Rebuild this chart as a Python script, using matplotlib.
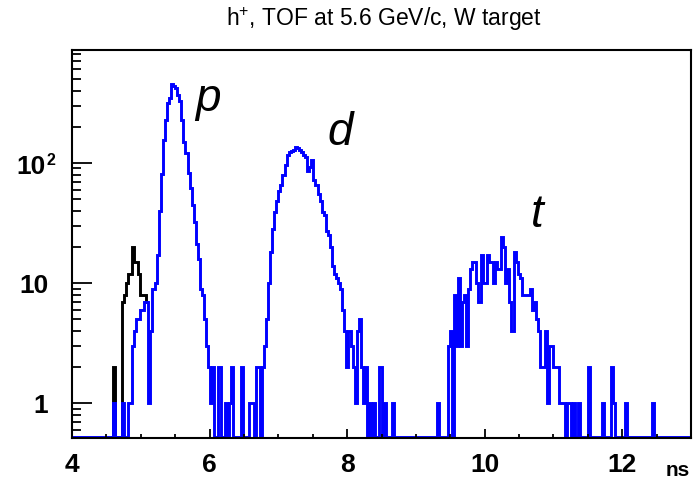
import numpy as np
import matplotlib
matplotlib.use("Agg")
import matplotlib.pyplot as plt
from matplotlib.transforms import blended_transform_factory
from matplotlib.ticker import FixedLocator, FuncFormatter, LogLocator, MultipleLocator

plt.rcParams['font.family'] = ['Liberation Sans', 'DejaVu Sans']
plt.rcParams['mathtext.fontset'] = 'custom'
plt.rcParams['mathtext.rm'] = 'Liberation Sans'
plt.rcParams['mathtext.sf'] = 'Liberation Sans'

# ---------------- data ----------------
x_lo, x_hi = 4.0, 13.0
bin_width = 0.03
n_bins = 300

# blue histogram (all h+), sparse: bin index -> counts
blue_low = {20: 1, 24: 1, 27: 1, 28: 1, 29: 3, 30: 4, 31: 5, 32: 5, 33: 6, 34: 6,
            35: 7, 36: 7, 37: 1, 38: 4, 39: 9}
blue_p = {40: 10, 41: 17, 42: 40, 43: 81, 44: 155, 45: 228, 46: 315, 47: 350,
          48: 450, 49: 440, 50: 420, 51: 370, 52: 330, 53: 228, 54: 150, 55: 120,
          56: 83, 57: 62, 58: 45, 59: 32, 60: 21, 61: 16, 62: 9, 63: 8, 64: 5,
          65: 3, 66: 2, 67: 1, 68: 2, 71: 2, 74: 1, 76: 1, 77: 2, 82: 2,
          86: 1, 87: 1, 89: 2, 90: 2}
blue_d = {92: 2, 93: 3, 94: 5, 95: 10, 96: 18, 97: 28, 98: 39, 99: 48, 100: 58,
          101: 66, 102: 80, 103: 96, 104: 117, 105: 124, 106: 126, 107: 128,
          108: 135, 109: 133, 110: 128, 111: 124, 112: 117, 113: 112, 114: 85,
          115: 93, 116: 105, 117: 72, 118: 66, 119: 55, 120: 48, 121: 39,
          122: 37, 123: 27, 124: 25, 125: 20, 126: 14, 127: 12, 128: 11,
          129: 10, 130: 9, 131: 6, 132: 4, 133: 2, 134: 4, 135: 3, 136: 2,
          137: 1, 138: 4, 139: 5, 140: 2, 141: 1, 142: 2, 144: 1, 146: 1,
          149: 2, 151: 1, 155: 1}
blue_t = {177: 1, 182: 3, 183: 4, 185: 8, 186: 3, 187: 11, 188: 3, 189: 7,
          190: 8, 191: 3, 192: 9, 193: 13, 194: 15, 195: 15, 196: 10, 197: 7,
          198: 17, 199: 10, 200: 10, 201: 17, 202: 15, 203: 15, 204: 10,
          205: 15, 206: 13, 207: 13, 208: 24, 209: 20, 210: 10, 211: 13,
          212: 7, 213: 4, 214: 18, 215: 15, 216: 12, 217: 11, 218: 8, 219: 8,
          220: 8, 221: 8, 222: 9, 223: 6, 224: 7, 225: 5, 226: 4, 227: 2,
          228: 2, 229: 4, 230: 1, 231: 3, 232: 3, 233: 2, 234: 2, 235: 2,
          236: 1, 237: 1, 238: 1, 240: 1, 241: 1, 243: 1, 245: 1, 250: 2,
          257: 1, 261: 2, 262: 1, 268: 1, 281: 1}

# black histogram (low-mass component near 4.9 ns), bins 19..36
black_first_bin = 19
black_counts = [0, 2, 0, 0, 0, 7, 8, 10, 12, 12, 20, 15, 15, 12, 8, 8, 8, 7]

# annotations
peak_labels = ['p', 'd', 't']
label_x = [5.79, 7.72, 10.67]
label_y = [270, 141, 29.3]

y_major = [1, 10, 100]
y_labels = ['1', '10', '']   # 10^2 drawn separately with a small exponent

title = r'h$^{+}$, TOF at 5.6 GeV/c, W target'

# ---------------- build ----------------
edges = x_lo + bin_width * np.arange(n_bins + 1)

def to_array(*dicts):
    arr = np.zeros(n_bins)
    for d in dicts:
        for k, v in d.items():
            arr[k] = v
    return arr

blue = to_array(blue_low, blue_p, blue_d, blue_t)
black = np.array(black_counts, dtype=float)
black_edges = edges[black_first_bin:black_first_bin + len(black) + 1]

y_lo, y_hi = 0.514, 870
floor = 0.528

W, H = 693, 483
fig = plt.figure(figsize=(W / 100, H / 100), dpi=100)
ax = fig.add_axes([72 / W, (H - 438) / H, (691 - 72) / W, (438 - 50) / H])

ax.stairs(np.where(black > 0, black, floor), black_edges, color='black', lw=2.1,
          baseline=None)
ax.stairs(np.where(blue > 0, blue, floor), edges, color='#0000ff', lw=2.1,
          baseline=None)

ax.set_yscale('log')
ax.set_xlim(x_lo, x_hi)
ax.set_ylim(y_lo, y_hi)

for s in ax.spines.values():
    s.set_linewidth(1.5)
    s.set_zorder(5)

ax.xaxis.set_major_locator(FixedLocator([4, 6, 8, 10, 12]))
ax.xaxis.set_minor_locator(MultipleLocator(0.5))
ax.yaxis.set_major_locator(FixedLocator(y_major))
ax.yaxis.set_minor_locator(LogLocator(base=10, subs=np.arange(2, 10)))

def yfmt(v, pos):
    for val, lab in zip(y_major, y_labels):
        if abs(v - val) < 1e-6 * val:
            return lab
    return ''
ax.yaxis.set_major_formatter(FuncFormatter(yfmt))
ax.yaxis.set_minor_formatter(FuncFormatter(lambda v, p: ''))

ax.tick_params(axis='x', which='major', direction='in', length=6.5, width=1.3,
               labelsize=19, pad=11, top=False)
ax.tick_params(axis='x', which='minor', direction='in', length=3.2, width=1.3,
               top=False)
ax.tick_params(axis='y', which='major', direction='in', length=14.5, width=1.3,
               labelsize=19, pad=17, right=False)
ax.tick_params(axis='y', which='minor', direction='in', length=6.8, width=1.3,
               right=False)
for lab in ax.get_xticklabels() + ax.get_yticklabels():
    lab.set_fontweight('bold')

# 10^2 label: big "10" plus small exponent "2"
tr = blended_transform_factory(fig.transFigure, ax.transData)
ax.text(45.5 / W, 100 * 10 ** (-4.5 / 120.2), '10', transform=tr, ha='right',
        va='center', fontsize=19, fontweight='bold', clip_on=False)
ax.text(46.5 / W, 100 * 10 ** (10 / 120.2), '2', transform=tr, ha='left',
        va='top', fontsize=11.5, fontweight='bold', clip_on=False)

for lab, lx, ly in zip(peak_labels, label_x, label_y):
    ax.text(lx, ly, lab, fontsize=33, style='italic', ha='left', va='baseline',
            color='black')

fig.text(384 / W, 1 - 19 / H, title, ha='center', va='center', fontsize=16.5,
         color='black')
fig.text(690 / W, 1 - 470 / H, 'ns', ha='right', va='center', fontsize=15,
         fontweight='bold')

fig.savefig('out.png', dpi=100)
